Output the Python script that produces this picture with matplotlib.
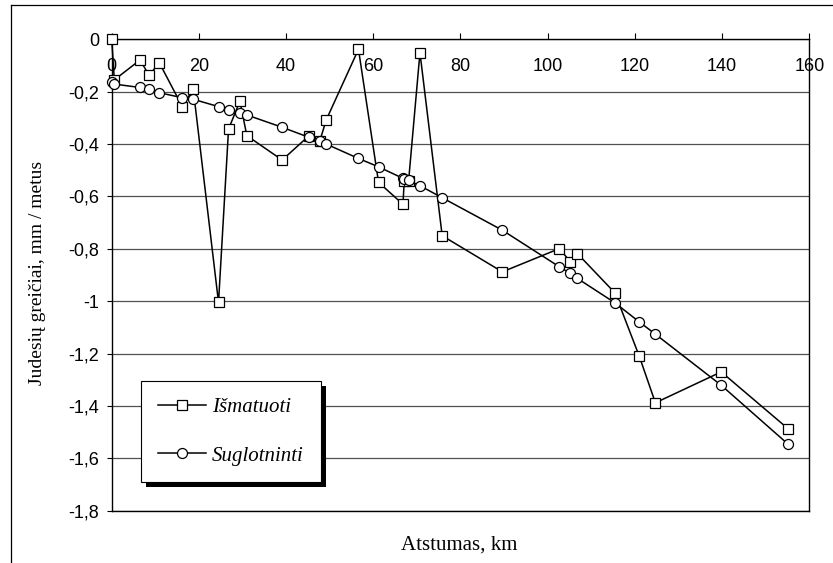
import matplotlib
matplotlib.use("Agg")
import matplotlib.pyplot as plt
from matplotlib.lines import Line2D
from matplotlib.patches import Rectangle
from matplotlib.transforms import IdentityTransform

# ---- data ----
distance_km = [0, 0.6, 6.5, 8.6, 10.9, 16.2, 18.7, 24.5, 26.8, 29.4, 31.0, 39.1,
               45.2, 47.7, 49.2, 56.6, 61.2, 66.8, 67.1, 68.1, 70.7, 75.8, 89.6,
               102.7, 105.2, 106.8, 115.4, 121.0, 124.7, 139.8, 155.2]
measured = [0, -0.155, -0.079, -0.138, -0.089, -0.257, -0.19, -1.005, -0.343,
            -0.236, -0.368, -0.461, -0.369, -0.39, -0.308, -0.038, -0.546, -0.63,
            -0.54, -0.54, -0.051, -0.75, -0.888, -0.799, -0.85, -0.818, -0.968,
            -1.21, -1.388, -1.27, -1.488]
smoothed = [-0.162, -0.171, -0.184, -0.191, -0.204, -0.223, -0.229, -0.257, -0.27,
            -0.283, -0.289, -0.336, -0.374, -0.39, -0.4, -0.455, -0.487, -0.531,
            -0.534, -0.539, -0.559, -0.605, -0.729, -0.869, -0.894, -0.913, -1.006,
            -1.079, -1.126, -1.321, -1.547]
series_names = ["Išmatuoti", "Suglotninti"]
x_ticks = [0, 20, 40, 60, 80, 100, 120, 140, 160]
x_tick_labels = ["0", "20", "40", "60", "80", "100", "120", "140", "160"]
y_ticks = [0, -0.2, -0.4, -0.6, -0.8, -1.0, -1.2, -1.4, -1.6, -1.8]
y_tick_labels = ["0", "-0,2", "-0,4", "-0,6", "-0,8", "-1", "-1,2", "-1,4", "-1,6", "-1,8"]
x_label = "Atstumas, km"
y_label = "Judesių greičiai, mm / metus"

W, H = 833, 563
fig = plt.figure(figsize=(W / 100, H / 100), dpi=100)
fig.patch.set_facecolor("white")

ax_l, ax_r, ax_t, ax_b = 111.7, 809.3, 39.3, 510.7
ax = fig.add_axes([ax_l / W, 1 - ax_b / H, (ax_r - ax_l) / W, (ax_b - ax_t) / H])
ax.set_xlim(0, 160)
ax.set_ylim(-1.8, 0)

sans = "Liberation Sans"
serif = "Liberation Serif"

ax.set_yticks(y_ticks)
ax.set_yticklabels(y_tick_labels, fontsize=13, family=sans)
ax.tick_params(axis="y", direction="out", length=3.3, width=0.8, pad=5.6, colors="black")
ax.set_xticks(x_ticks)
ax.tick_params(axis="x", top=True, bottom=False, labeltop=False, labelbottom=False,
               direction="out", length=4.3, width=0.8)
for t, lab in zip(x_ticks, x_tick_labels):
    ax.text(t, 0.943, lab, transform=ax.get_xaxis_transform(), ha="center",
            va="center", fontsize=13, family=sans, zorder=1)

ax.yaxis.grid(True, color="#505050", lw=0.9)
ax.set_axisbelow(True)
for sp in ax.spines.values():
    sp.set_color("black")
    sp.set_linewidth(1.0)

l1, = ax.plot(distance_km, measured, color="black", lw=1.1, marker="s", ms=7.0,
              mfc="white", mec="black", mew=0.9, clip_on=False, zorder=3,
              label=series_names[0])
l2, = ax.plot(distance_km, smoothed, color="black", lw=1.1, marker="o", ms=7.2,
              mfc="white", mec="black", mew=0.9, clip_on=False, zorder=3,
              label=series_names[1])

leg = ax.legend(handles=[l1, l2], loc="upper left",
                bbox_to_anchor=((141 - ax_l) / (ax_r - ax_l), 1 - (380.7 - ax_t) / (ax_b - ax_t)),
                borderaxespad=0, prop={"family": serif, "style": "italic", "size": 15},
                handlelength=2.3, handletextpad=0.32, borderpad=0.8, labelspacing=1.4,
                frameon=True, fancybox=False, framealpha=1, edgecolor="black")
leg.get_frame().set_linewidth(0.8)
leg.set_zorder(6)

fig.text(38 / W, 1 - 273 / H, y_label, rotation=90, ha="center", va="center",
         fontsize=14, family=serif)
fig.text(459 / W, 1 - 545 / H, x_label, ha="center", va="center",
         fontsize=15, family=serif)

# outer chart frame (top and left edges visible)
fig.add_artist(Line2D([11 / W, 1], [1 - 5 / H, 1 - 5 / H], transform=fig.transFigure,
                      color="black", lw=0.9))
fig.add_artist(Line2D([11 / W, 11 / W], [0, 1 - 5 / H], transform=fig.transFigure,
                      color="black", lw=0.9))

fig.canvas.draw()
bb = leg.get_frame().get_window_extent()
shadow = Rectangle((bb.x0 + 5, bb.y0 - 5), bb.width, bb.height, transform=IdentityTransform(),
                   facecolor="black", edgecolor="none", zorder=5.9, clip_on=False)
ax.add_patch(shadow)

fig.savefig("out.png", dpi=100)
